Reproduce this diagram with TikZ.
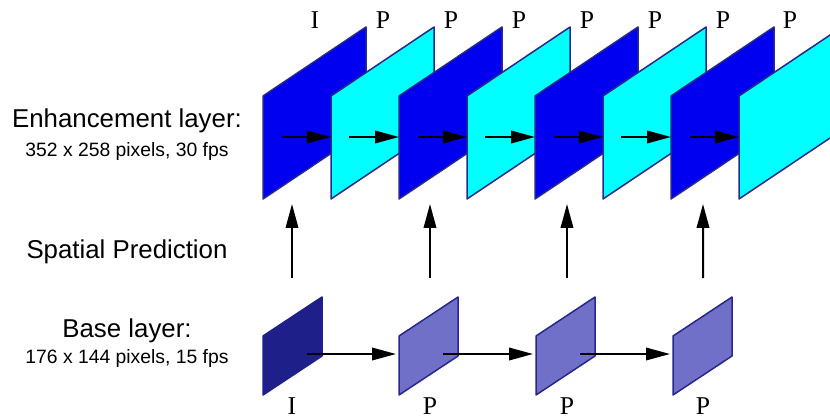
\documentclass[tikz,border=0pt]{standalone}
\usepackage{fontspec}
\setmainfont{Liberation Serif}
\setsansfont{Liberation Sans}
\usetikzlibrary{arrows.meta}

\definecolor{enhblue}{HTML}{0000F0}
\definecolor{enhcyan}{HTML}{00FFFF}
\definecolor{frameedge}{HTML}{27278C}
\definecolor{basedark}{HTML}{1F1F8A}
\definecolor{baselight}{HTML}{7070C8}

\tikzset{
  enhA/.style={fill=enhblue, draw=frameedge, line width=0.03cm, line join=round},
  enhB/.style={fill=enhcyan, draw=frameedge, line width=0.03cm, line join=round},
  baseA/.style={fill=basedark, draw=basedark, line width=0.03cm, line join=round},
  baseB/.style={fill=baselight, draw=frameedge, line width=0.03cm, line join=round},
  arr/.style={line width=0.04cm, -{Triangle[length=0.48cm,width=0.25cm]}},
  big/.style={font=\sffamily\fontsize{14.7}{17}\selectfont, anchor=base},
  small/.style={font=\sffamily\fontsize{11}{13}\selectfont, anchor=base},
  ftype/.style={font=\fontsize{14.6}{17}\selectfont, anchor=base, inner sep=0pt}
}

\begin{document}
\begin{tikzpicture}[x=0.02cm, y=-0.02cm]
  \useasboundingbox (0,0) rectangle (830,419);

  % left labels
  \node[big] (enhname) at (127,127) {Enhancement layer:};
  \node[small] (enhsize) at (127,156) {352 x 258 pixels, 30 fps};
  \node[big] (spatial) at (127,258) {Spatial Prediction};
  \node[big] (basename) at (127,337) {Base layer:};
  \node[small] (basesize) at (127,363) {176 x 144 pixels, 15 fps};

  % enhancement layer frames
  \coordinate (e1) at (263,137);
  \coordinate (e2) at (331,137);
  \coordinate (e3) at (399,137);
  \coordinate (e4) at (467,137);
  \coordinate (e5) at (535,137);
  \coordinate (e6) at (603,137);
  \coordinate (e7) at (671,137);
  \coordinate (e8) at (739,137);
  \filldraw[enhA] (e1) ++(0,62) -- ++(0,-103) -- ++(103,-69) -- ++(0,103) -- cycle;
  \filldraw[enhB] (e2) ++(0,62) -- ++(0,-103) -- ++(103,-69) -- ++(0,103) -- cycle;
  \filldraw[enhA] (e3) ++(0,62) -- ++(0,-103) -- ++(103,-69) -- ++(0,103) -- cycle;
  \filldraw[enhB] (e4) ++(0,62) -- ++(0,-103) -- ++(103,-69) -- ++(0,103) -- cycle;
  \filldraw[enhA] (e5) ++(0,62) -- ++(0,-103) -- ++(103,-69) -- ++(0,103) -- cycle;
  \filldraw[enhB] (e6) ++(0,62) -- ++(0,-103) -- ++(103,-69) -- ++(0,103) -- cycle;
  \filldraw[enhA] (e7) ++(0,62) -- ++(0,-103) -- ++(103,-69) -- ++(0,103) -- cycle;
  \filldraw[enhB] (e8) ++(0,62) -- ++(0,-103) -- ++(103,-69) -- ++(0,103) -- cycle;
  \draw[arr] ([xshift=0.38cm]e1) -- (e2);
  \draw[arr] ([xshift=0.36cm]e2) -- (e3);
  \draw[arr] ([xshift=0.38cm]e3) -- (e4);
  \draw[arr] ([xshift=0.36cm]e4) -- (e5);
  \draw[arr] ([xshift=0.38cm]e5) -- (e6);
  \draw[arr] ([xshift=0.36cm]e6) -- (e7);
  \draw[arr] ([xshift=0.38cm]e7) -- (e8);

  % base layer frames
  \coordinate (b1) at (263,354);
  \coordinate (b2) at (399,354);
  \coordinate (b3) at (536,354);
  \coordinate (b4) at (673,354);
  \filldraw[baseA] (b1) ++(0,41) -- ++(0,-59) -- ++(59,-39) -- ++(0,59) -- cycle;
  \filldraw[baseB] (b2) ++(0,41) -- ++(0,-59) -- ++(59,-39) -- ++(0,59) -- cycle;
  \filldraw[baseB] (b3) ++(0,41) -- ++(0,-59) -- ++(59,-39) -- ++(0,59) -- cycle;
  \filldraw[baseB] (b4) ++(0,41) -- ++(0,-59) -- ++(59,-39) -- ++(0,59) -- cycle;
  \draw[arr, shorten >=0.06cm] ([xshift=0.88cm]b1) -- (b2);
  \draw[arr, shorten >=0.06cm] ([xshift=0.88cm]b2) -- (b3);
  \draw[arr, shorten >=0.06cm] ([xshift=0.88cm]b3) -- (b4);

  % spatial prediction
  \draw[arr] ([shift={(0.58cm,1.52cm)}]b1) -- ([shift={(0.58cm,-1.34cm)}]e1);
  \draw[arr] ([shift={(0.62cm,1.52cm)}]b2) -- ([shift={(0.62cm,-1.34cm)}]e3);
  \draw[arr] ([shift={(0.62cm,1.52cm)}]b3) -- ([shift={(0.64cm,-1.34cm)}]e5);
  \draw[arr] ([shift={(0.60cm,1.52cm)}]b4) -- ([shift={(0.64cm,-1.34cm)}]e7);

  % frame types
  \node[ftype] (te1) at (315,29) {I};
  \node[ftype] (te2) at (383,29) {P};
  \node[ftype] (te3) at (451,29) {P};
  \node[ftype] (te4) at (519,29) {P};
  \node[ftype] (te5) at (587,29) {P};
  \node[ftype] (te6) at (655,29) {P};
  \node[ftype] (te7) at (723,29) {P};
  \node[ftype] (te8) at (790,29) {P};
  \node[ftype] (tb1) at (292,414) {I};
  \node[ftype] (tb2) at (430,414) {P};
  \node[ftype] (tb3) at (567,414) {P};
  \node[ftype] (tb4) at (703,414) {P};
\end{tikzpicture}
\end{document}
